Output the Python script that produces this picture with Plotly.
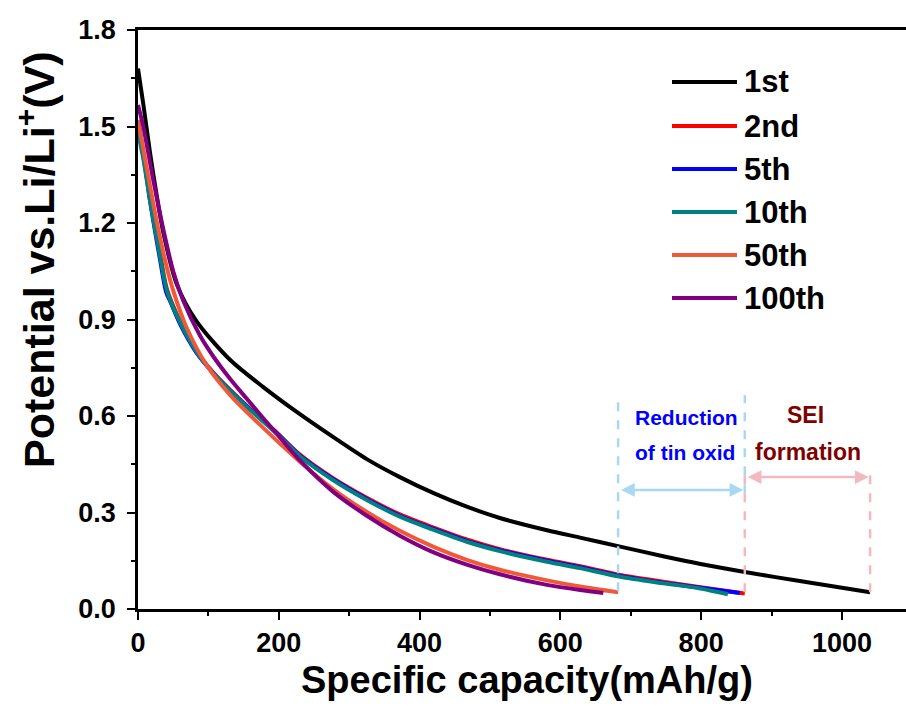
import plotly.graph_objects as go

# ---------------- data ----------------
series_names = ["1st", "2nd", "5th", "10th", "50th", "100th"]
series_colors = ["#000000", "#FF0000", "#0000FF", "#008080", "#F0583A", "#800080"]

x_1st = [0, 7.5, 17, 27, 36, 55, 83, 131, 178, 226, 277, 325, 372, 420, 467, 514, 581, 628, 685, 746, 799, 862, 940, 1040]
y_1st = [1.68, 1.57, 1.42, 1.28, 1.17, 1.01, 0.895, 0.774, 0.69, 0.612, 0.535, 0.466, 0.41, 0.36, 0.318, 0.283, 0.245, 0.222, 0.194, 0.164, 0.14, 0.115, 0.087, 0.052]

x_2nd = [0, 7.5, 17, 31, 41, 60, 83, 107, 131, 154, 178, 197, 230, 277, 325, 372, 420, 467, 514, 581, 628, 685, 746, 799, 862]
y_2nd = [1.50, 1.41, 1.28, 1.11, 0.995, 0.893, 0.80, 0.735, 0.681, 0.633, 0.586, 0.549, 0.48, 0.407, 0.346, 0.294, 0.253, 0.216, 0.186, 0.153, 0.133, 0.106, 0.085, 0.068, 0.048]

x_5th = [0, 7.5, 17, 31, 40, 46, 60, 83, 107, 131, 154, 178, 197, 230, 277, 325, 372, 420, 467, 514, 581, 628, 685, 746, 799, 855]
y_5th = [1.52, 1.42, 1.27, 1.09, 0.985, 0.955, 0.885, 0.797, 0.733, 0.679, 0.631, 0.584, 0.547, 0.477, 0.404, 0.342, 0.290, 0.249, 0.212, 0.183, 0.150, 0.130, 0.103, 0.082, 0.066, 0.050]

x_10th = [0, 7.5, 17, 31, 41, 60, 83, 107, 131, 154, 178, 197, 230, 277, 325, 372, 420, 467, 514, 581, 628, 685, 746, 799, 838]
y_10th = [1.48, 1.40, 1.27, 1.10, 0.99, 0.89, 0.80, 0.733, 0.678, 0.63, 0.583, 0.545, 0.475, 0.401, 0.339, 0.287, 0.246, 0.209, 0.18, 0.147, 0.127, 0.10, 0.08, 0.064, 0.046]

x_50th = [0, 5, 15, 27, 40, 50, 69, 97.5, 131, 178, 230, 277, 325, 372, 420, 467, 514, 581, 628, 682]
y_50th = [1.52, 1.46, 1.34, 1.20, 1.07, 0.99, 0.875, 0.758, 0.665, 0.563, 0.458, 0.373, 0.302, 0.243, 0.193, 0.153, 0.122, 0.089, 0.07, 0.052]

x_100th = [0, 7.5, 22, 36, 50, 64, 88, 107, 131, 154, 178, 197, 230, 277, 325, 372, 420, 467, 514, 581, 628, 661]
y_100th = [1.567, 1.50, 1.33, 1.18, 1.05, 0.96, 0.85, 0.785, 0.715, 0.655, 0.593, 0.545, 0.462, 0.365, 0.29, 0.228, 0.176, 0.138, 0.108, 0.075, 0.059, 0.05]

xs = [x_1st, x_2nd, x_5th, x_10th, x_50th, x_100th]
ys = [y_1st, y_2nd, y_5th, y_10th, y_50th, y_100th]

# region markers (capacity bounds, mAh/g)
region_bounds = [682, 862, 1040]
region_text_lines = [["Reduction", "of tin oxid"], ["SEI", "formation"]]
region_text_x = [[779, 777], [948, 952]]
region_text_y = [[0.594, 0.488], [0.603, 0.488]]
region_text_size = [21, 23]
region_text_colors = ["#0000FF", "#800000"]
region_line_colors = ["#A9D8F2", "#F4B8C0"]
region_arrow_y = [0.37, 0.41]
region_line_top = [0.665, 0.43]
region_line_bottom = [0.055, 0.052]

x_ticks = [0, 200, 400, 600, 800, 1000]
y_ticks = [0.0, 0.3, 0.6, 0.9, 1.2, 1.5, 1.8]

FONT = "Arial, Liberation Sans, Helvetica, sans-serif"

fig = go.Figure()
for name, col, x, y in zip(series_names, series_colors, xs, ys):
    fig.add_trace(go.Scatter(x=x, y=y, mode="lines", name=name,
                             line=dict(color=col, width=4, shape="spline", smoothing=0.8),
                             showlegend=False))

shapes = []
annotations = []

# dashed vertical region lines (blue: left & middle; pink: middle & right)
shapes.append(dict(type="line", xref="x", yref="y", x0=region_bounds[0], x1=region_bounds[0],
                   y0=region_line_bottom[0], y1=region_line_top[0],
                   line=dict(color=region_line_colors[0], width=2.5, dash="dash")))
shapes.append(dict(type="line", xref="x", yref="y", x0=region_bounds[1], x1=region_bounds[1],
                   y0=region_arrow_y[0] - 0.01, y1=region_line_top[0],
                   line=dict(color=region_line_colors[0], width=2.5, dash="dash")))
for xb in (region_bounds[1], region_bounds[2]):
    shapes.append(dict(type="line", xref="x", yref="y", x0=xb, x1=xb,
                       y0=region_line_bottom[1], y1=region_line_top[1],
                       line=dict(color=region_line_colors[1], width=2.5, dash="dash")))

# double arrows and texts
for i in range(2):
    x0, x1 = region_bounds[i], region_bounds[i + 1]
    annotations.append(dict(x=x1 - 2, y=region_arrow_y[i], ax=x0 + 2, ay=region_arrow_y[i],
                            xref="x", yref="y", axref="x", ayref="y", text="",
                            showarrow=True, arrowhead=2, startarrowhead=2,
                            arrowside="end+start", arrowsize=1.1, startarrowsize=1.1,
                            arrowwidth=2.5, arrowcolor=region_line_colors[i]))
    for txt, tx, ty in zip(region_text_lines[i], region_text_x[i], region_text_y[i]):
        annotations.append(dict(x=tx, y=ty, xref="x", yref="y", text=txt,
                                showarrow=False, xanchor="center", yanchor="middle",
                                font=dict(family=FONT, size=region_text_size[i],
                                          color=region_text_colors[i], weight="bold")))

# custom legend
leg_y_px = [82, 126, 169, 212, 255, 298]
for name, col, py in zip(series_names, series_colors, leg_y_px):
    yp = (609 - py) / 579
    shapes.append(dict(type="line", xref="paper", yref="paper",
                       x0=(672 - 138) / 768, x1=(737 - 138) / 768, y0=yp, y1=yp,
                       line=dict(color=col, width=4)))
    annotations.append(dict(x=(742 - 138) / 768, y=yp, xref="paper", yref="paper",
                            text=name, showarrow=False, xanchor="left", yanchor="middle",
                            font=dict(family=FONT, size=31, color="black", weight="bold")))

# axis titles
annotations.append(dict(x=(36 - 138) / 768, y=(609 - 260) / 579, xref="paper", yref="paper",
                        text="Potential vs.Li/Li<sup>+</sup>(V)", textangle=-90, showarrow=False,
                        xanchor="center", yanchor="middle",
                        font=dict(family=FONT, size=43, color="black", weight="bold")))
annotations.append(dict(x=(527 - 138) / 768, y=(609 - 680) / 579, xref="paper", yref="paper",
                        text="Specific capacity(mAh/g)", showarrow=False,
                        xanchor="center", yanchor="middle",
                        font=dict(family=FONT, size=38, color="black", weight="bold")))

fig.update_layout(
    width=906, height=707,
    margin=dict(l=138, r=0, t=30, b=98),
    paper_bgcolor="white", plot_bgcolor="white",
    shapes=shapes, annotations=annotations,
    showlegend=False,
    xaxis=dict(range=[0, 1091], tickvals=x_ticks, ticktext=[str(v) for v in x_ticks],
               ticks="outside", ticklen=8, tickwidth=2, tickcolor="black",
               minor=dict(dtick=100, ticks="outside", ticklen=4, tickwidth=2, tickcolor="black"),
               showline=True, linewidth=2.5, linecolor="black", mirror=True,
               showgrid=False, zeroline=False,
               tickfont=dict(family=FONT, size=27, color="black", weight="bold")),
    yaxis=dict(range=[0, 1.8], tickvals=y_ticks, ticktext=["%.1f" % v for v in y_ticks],
               ticks="outside", ticklen=8, tickwidth=2, tickcolor="black",
               ticklabelstandoff=6,
               minor=dict(dtick=0.15, ticks="outside", ticklen=4, tickwidth=2, tickcolor="black"),
               showline=True, linewidth=2.5, linecolor="black", mirror=False,
               showgrid=False, zeroline=False,
               tickfont=dict(family=FONT, size=27, color="black", weight="bold")),
)

fig.write_html("out.html")
